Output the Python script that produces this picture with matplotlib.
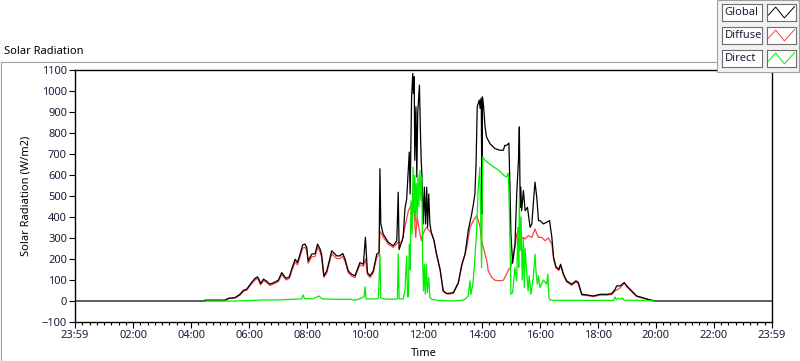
import matplotlib
matplotlib.use("Agg")
import matplotlib.pyplot as plt
from matplotlib.patches import Rectangle
from matplotlib.ticker import MultipleLocator

plt.rcParams["font.family"] = ["Noto Sans", "DejaVu Sans"]
plt.rcParams["font.size"] = 8

# time of day in hours, values in W/m2
global_t = [0.0, 4.47, 4.48, 5.17, 5.28, 5.51, 5.68, 5.80, 5.91, 6.08, 6.20, 6.28, 6.33, 6.39, 6.49,
            6.58, 6.71, 6.85, 7.0, 7.12, 7.2, 7.27, 7.38, 7.46, 7.58, 7.66, 7.75, 7.84, 7.92, 7.98,
            8.03, 8.15, 8.27, 8.35, 8.44, 8.49, 8.57, 8.67, 8.84, 9.01, 9.12, 9.22, 9.30, 9.41, 9.53,
            9.64, 9.81, 9.93, 10.0, 10.07, 10.16, 10.27, 10.39, 10.47,
            10.50, 10.53, 10.61, 10.79, 10.96, 11.08, 11.13, 11.16, 11.30, 11.36, 11.42,
            11.51, 11.54, 11.59, 11.63, 11.65, 11.68, 11.70, 11.74, 11.77, 11.80, 11.86, 11.89, 11.92,
            11.95, 11.99, 12.03, 12.07, 12.11, 12.14, 12.18, 12.22, 12.28, 12.36, 12.45, 12.57, 12.68,
            12.80, 13.03, 13.20, 13.32, 13.43, 13.54, 13.66, 13.72, 13.77, 13.81, 13.85, 13.92, 13.95,
            13.99, 14.01, 14.03, 14.07, 14.12, 14.17, 14.29, 14.46, 14.63, 14.75, 14.80, 14.86, 14.94,
            14.98, 15.01, 15.07, 15.15, 15.21, 15.27, 15.30, 15.33, 15.35, 15.38, 15.44, 15.50, 15.58,
            15.67, 15.73, 15.78, 15.84, 15.90, 15.96, 16.01, 16.13, 16.24, 16.34, 16.42, 16.48, 16.56,
            16.66, 16.72, 16.82, 16.93, 17.10, 17.25, 17.33, 17.45, 17.62, 17.85, 18.08, 18.31, 18.48,
            18.60, 18.65, 18.77, 18.91, 19.00, 19.17, 19.34, 19.62, 19.79, 19.97, 24.0]
global_v = [0, 0, 4, 4, 13, 16, 32, 51, 56, 88, 108, 115, 104, 83, 104,
            96, 80, 88, 99, 135, 120, 108, 115, 151, 199, 183, 223, 267, 271, 255,
            191, 223, 226, 271, 247, 223, 120, 143, 239, 215, 215, 226, 199, 143, 127,
            120, 183, 175, 303, 135, 120, 143, 223, 231,
            630, 367, 319, 279, 263, 287, 518, 245, 303, 438, 486,
            709, 510, 972, 1084, 988, 1068, 670, 925, 590, 893, 1028, 829, 670,
            590, 367, 542, 367, 542, 351, 510, 367, 319, 290, 223, 152, 48,
            35, 40, 88, 175, 223, 335, 415, 463, 510, 654, 925, 957, 917,
            965, 415, 972, 925, 829, 781, 749, 726, 718, 718, 741, 741, 752,
            526, 319, 180, 271, 510, 670, 829, 446, 542, 430, 526, 430, 446,
            351, 367, 462, 566, 494, 383, 383, 367, 375, 383, 303, 207, 163,
            151, 175, 128, 96, 80, 96, 88, 32, 29, 24, 32, 32, 35,
            56, 72, 72, 88, 72, 48, 24, 13, 6, 0, 0]

diffuse_t = [4.48, 5.17, 5.28, 5.51, 5.68, 5.80, 5.91, 6.08, 6.20, 6.28, 6.33, 6.39, 6.49,
             6.58, 6.71, 6.85, 7.0, 7.12, 7.2, 7.27, 7.38, 7.46, 7.58, 7.66, 7.75, 7.84, 7.92, 7.98,
             8.03, 8.15, 8.27, 8.35, 8.44, 8.49, 8.57, 8.67, 8.84, 9.01, 9.12, 9.22, 9.30, 9.41, 9.53,
             9.64, 9.81, 9.93, 10.0, 10.07, 10.16, 10.27, 10.39, 10.47,
             10.50, 10.62, 10.79, 10.96, 11.13, 11.25, 11.36, 11.48, 11.59, 11.65, 11.69,
             11.73, 11.78, 11.88, 11.93, 11.96, 12.05, 12.11, 12.20, 12.30, 12.36, 12.45, 12.57, 12.68,
             12.86, 13.03, 13.20, 13.32, 13.49, 13.60, 13.72, 13.83, 13.89, 13.95, 14.00, 14.06, 14.12,
             14.18, 14.23, 14.35, 14.46, 14.63, 14.75, 14.86, 14.94, 15.00, 15.07, 15.15, 15.21, 15.27,
             15.32, 15.44, 15.50, 15.61, 15.73, 15.84, 15.95, 16.07, 16.18, 16.30, 16.42, 16.48, 16.56,
             16.66, 16.72, 16.82, 16.93, 17.10, 17.25, 17.33, 17.45, 17.62, 17.85, 18.08, 18.31, 18.48,
             18.60, 18.65, 18.77, 18.91, 19.00, 19.17, 19.34, 19.62, 19.79, 19.97]
diffuse_v = [1, 2, 11, 14, 28, 46, 51, 82, 100, 108, 97, 77, 97,
             90, 74, 82, 92, 126, 112, 100, 107, 142, 186, 172, 210, 252, 256, 240,
             180, 210, 213, 256, 233, 210, 112, 134, 225, 202, 202, 213, 187, 134, 118,
             112, 172, 165, 200, 126, 112, 134, 210, 218,
             333, 303, 270, 255, 279, 279, 351, 430, 462, 478, 399,
             303, 399, 319, 287, 311, 340, 351, 335, 319, 285, 218, 148, 45,
             33, 37, 84, 168, 255, 351, 383, 406, 383, 351, 287, 255, 223,
             191, 143, 112, 99, 96, 99, 128, 152, 159, 207, 255, 319, 335,
             287, 303, 295, 311, 303, 343, 303, 303, 287, 300, 270, 200, 158,
             145, 168, 122, 90, 75, 90, 82, 28, 26, 21, 28, 28, 31,
             48, 52, 62, 84, 68, 44, 21, 11, 4, 0]

direct_t = [4.48, 5.5, 6.0, 6.5, 7.0, 7.5, 7.80, 7.85, 7.90, 8.2, 8.4, 8.5, 9.0, 9.5, 9.6, 9.8, 9.95,
            9.99, 10.02, 10.4, 10.45, 10.50, 10.53, 10.65, 10.9, 11.10, 11.13, 11.16, 11.30, 11.36,
            11.42, 11.45, 11.48, 11.51, 11.54, 11.57, 11.61, 11.64, 11.67, 11.70, 11.72, 11.75, 11.78,
            11.81, 11.84, 11.88, 11.91, 11.94, 11.97, 12.00, 12.03, 12.06, 12.10, 12.13, 12.18, 12.22,
            12.30, 12.5, 13.0, 13.3, 13.43, 13.54, 13.60, 13.63, 13.70, 13.75, 13.83, 13.88, 13.94,
            14.00, 14.04, 14.12, 14.26, 14.43, 14.60, 14.75, 14.86, 14.92, 14.94, 14.98, 15.01, 15.07,
            15.15, 15.21, 15.25, 15.28, 15.30, 15.33, 15.36, 15.40, 15.44, 15.47, 15.50, 15.55, 15.60,
            15.64, 15.70, 15.78, 15.84, 15.88, 15.92, 15.96, 16.01, 16.13, 16.24, 16.28, 16.32, 16.36,
            16.5, 17.0, 18.0, 18.55, 18.59, 18.63, 18.7, 18.8, 18.85, 18.9, 19.5, 19.97]
direct_v = [0, 0, 2, 5, 5, 8, 10, 29, 12, 10, 24, 10, 8, 8, 3, 10, 20,
            68, 10, 10, 15, 223, 15, 10, 8, 10, 223, 10, 10, 50,
            215, 20, 20, 271, 150, 478, 320, 637, 420, 600, 380, 560, 400,
            600, 450, 622, 480, 590, 200, 48, 175, 32, 175, 40, 112, 15,
            8, 3, 0, 3, 8, 24, 96, 30, 80, 159, 335, 526, 637,
            159, 686, 670, 654, 637, 622, 600, 590, 610, 526, 271, 32, 40,
            159, 96, 351, 160, 494, 240, 400, 100, 300, 64, 250, 143, 48,
            120, 32, 112, 223, 130, 80, 120, 64, 100, 80, 128, 16, 5,
            3, 3, 3, 3, 19, 8, 12, 10, 14, 4, 3, 0]

x_ticks = [0, 2, 4, 6, 8, 10, 12, 14, 16, 18, 20, 22, 24]
x_labels = ["23:59", "02:00", "04:00", "06:00", "08:00", "10:00", "12:00",
            "14:00", "16:00", "18:00", "20:00", "22:00", "23:59"]
series_names = ["Global", "Diffuse", "Direct"]
series_colors = ["#000000", "#ff4040", "#00ee00"]

W, H = 800, 361
text_color = "#1c1c3c"
fig = plt.figure(figsize=(W / 100, H / 100), dpi=100)

# outer grey frame of the graph control
fig.add_artist(Rectangle((0.5 / W, 0.5 / H), 1.2, (H - 61.5) / H - 0.5 / H,
                         transform=fig.transFigure, fill=False, ec="#a0a0a0", lw=0.8))
fig.text(4 / W, 1 - 51 / H, "Solar Radiation", ha="left", va="center", color="#000000", fontsize=8)

ax = fig.add_axes([75 / W, (H - 322) / H, (772 - 75) / W, (322 - 70) / H])
ax.plot(diffuse_t, diffuse_v, color=series_colors[1], lw=0.9, zorder=1)
ax.plot(global_t, global_v, color=series_colors[0], lw=0.9, zorder=2)
ax.plot(direct_t, direct_v, color=series_colors[2], lw=0.9, zorder=3)

ax.set_xlim(0, 24)
ax.set_ylim(-100, 1100)
ax.set_xticks(x_ticks)
ax.set_xticklabels(x_labels)
ax.xaxis.set_minor_locator(MultipleLocator(0.25))
ax.yaxis.set_major_locator(MultipleLocator(100))
ax.tick_params(which="major", direction="out", length=4.3, width=0.8, colors="#000000",
               labelcolor=text_color, labelsize=8, pad=1.5)
ax.tick_params(which="minor", direction="out", length=2.2, width=0.8, colors="#000000")
for s in ax.spines.values():
    s.set_linewidth(1.0)
    s.set_color("#000000")

ax.set_ylabel("Solar Radiation (W/m2)", fontsize=8, color="#000000")
ax.yaxis.set_label_coords((32 - 75) / 697, 0.5)
ax.set_xlabel("Time", fontsize=8, color="#000000")
ax.xaxis.set_label_coords(0.5, (322 - 354) / 252)
ax.xaxis.label.set_va("center")

# legend panel in the top right corner
fig.add_artist(Rectangle((717 / W, (H - 72) / H), (799 - 717) / W, 72 / H,
                         transform=fig.transFigure, fc="#f2f2f2", ec="#a0a0a0", lw=0.8, zorder=5))
row_tops = [4, 27, 50]
for name, color, top in zip(series_names, series_colors, row_tops):
    y0 = (H - top - 17) / H
    lab = fig.add_axes([722 / W, y0, 40 / W, 17 / H], zorder=6)
    lab.set_xticks([])
    lab.set_yticks([])
    lab.text(0.07, 0.5, name, ha="left", va="center", color=text_color, fontsize=8,
             transform=lab.transAxes)
    sw = fig.add_axes([767 / W, y0, 29 / W, 17 / H], zorder=6)
    sw.set_xticks([])
    sw.set_yticks([])
    sw.set_xlim(0, 1)
    sw.set_ylim(0, 1)
    sw.plot([0.05, 0.3, 0.6, 0.95], [0.35, 0.82, 0.18, 0.85], color=color, lw=0.7)
    for a in (lab, sw):
        for s in a.spines.values():
            s.set_color("#6e6e6e")
            s.set_linewidth(0.8)

fig.savefig("out.png", dpi=100)
